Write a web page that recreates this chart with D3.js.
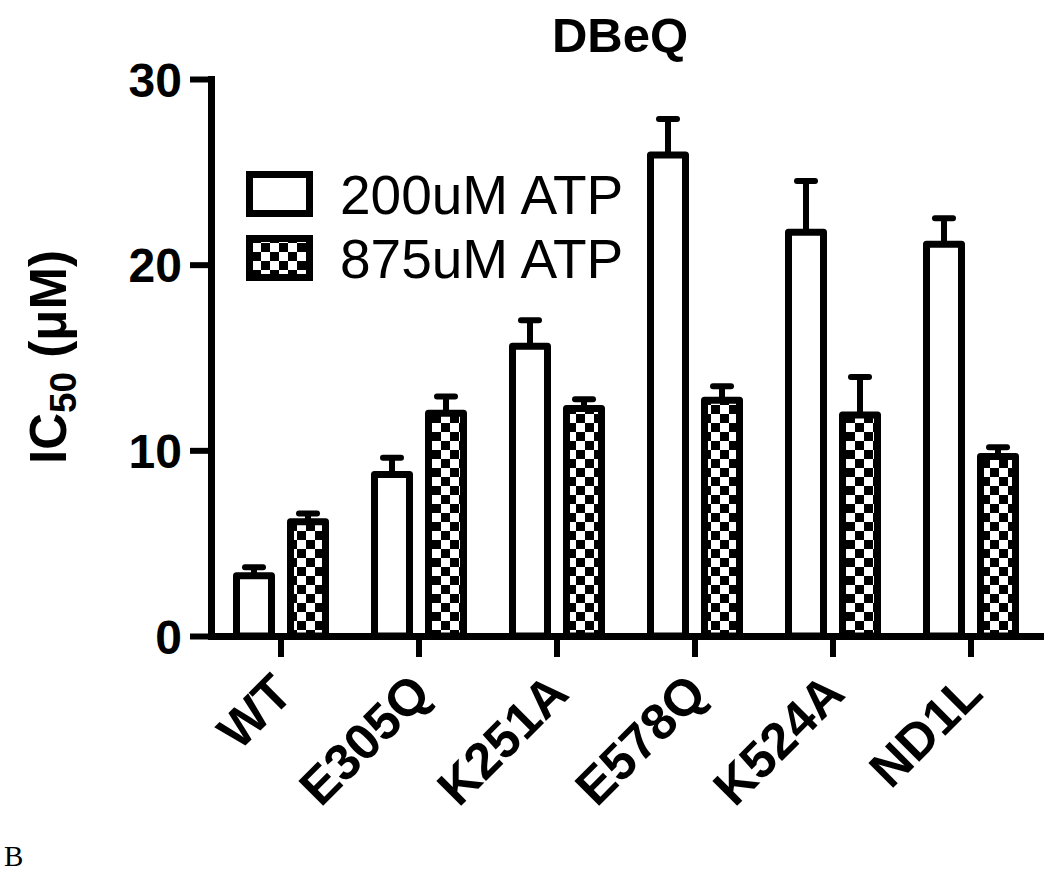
<!DOCTYPE html>
<html>
<head>
<meta charset="utf-8">
<script src="https://cdn.jsdelivr.net/npm/d3@7"></script>
<style>
  html, body { margin: 0; padding: 0; background: #fff; }
  svg { display: block; }
</style>
</head>
<body>
<svg id="chart" width="1050" height="876"></svg>
<script>
const categories = ["WT", "E305Q", "K251A", "E578Q", "K524A", "ND1L"];
const seriesNames = ["200uM ATP", "875uM ATP"];
const values200 = [3.25, 8.7, 15.6, 25.9, 21.75, 21.1];
const errors200 = [0.45, 0.9, 1.4, 1.95, 2.75, 1.4];
const values875 = [6.15, 12.0, 12.25, 12.7, 11.9, 9.67];
const errors875 = [0.45, 0.9, 0.5, 0.75, 2.05, 0.5];
const yTicks = [0, 10, 20, 30];
const titleText = "DBeQ";

const svg = d3.select("#chart");
const FONT = "'Liberation Sans', Arial, Helvetica, sans-serif";

const x0 = 212, x1 = 1040, yTop = 79, yBottom = 636;
const x = d3.scaleBand().domain(categories).range([x0, x1]).paddingInner(0).paddingOuter(0);
const xs = d3.scaleBand().domain(seriesNames).range([-44.5, 44.5]).paddingInner(0.352);
const y = d3.scaleLinear().domain([0, 30]).range([yBottom, yTop]);

// checker pattern
const defs = svg.append("defs");
const pat = defs.append("pattern").attr("id", "checker")
  .attr("patternUnits", "userSpaceOnUse").attr("width", 18).attr("height", 18);
pat.append("rect").attr("width", 18).attr("height", 18).attr("fill", "#fff");
pat.append("rect").attr("x", 0).attr("y", 0).attr("width", 9).attr("height", 9).attr("fill", "#000");
pat.append("rect").attr("x", 9).attr("y", 9).attr("width", 9).attr("height", 9).attr("fill", "#000");

const fills = {"200uM ATP": "#fff", "875uM ATP": "url(#checker)"};

const data = [];
categories.forEach((c, i) => {
  data.push({cat: c, s: seriesNames[0], v: values200[i], e: errors200[i]});
  data.push({cat: c, s: seriesNames[1], v: values875[i], e: errors875[i]});
});

// error bars
const eg = svg.append("g");
data.forEach(d => {
  const cx = x(d.cat) + x.bandwidth() / 2 + xs(d.s) + xs.bandwidth() / 2;
  eg.append("line").attr("x1", cx).attr("x2", cx).attr("y1", y(d.v)).attr("y2", y(d.v + d.e))
    .attr("stroke", "#000").attr("stroke-width", 6);
  eg.append("line").attr("x1", cx - 9).attr("x2", cx + 9).attr("y1", y(d.v + d.e)).attr("y2", y(d.v + d.e))
    .attr("stroke", "#000").attr("stroke-width", 6).attr("stroke-linecap", "round");
});

// bars
svg.append("g").selectAll("rect").data(data).join("rect")
  .attr("x", d => x(d.cat) + x.bandwidth() / 2 + xs(d.s))
  .attr("y", d => y(d.v))
  .attr("width", xs.bandwidth())
  .attr("height", d => y(0) - y(d.v))
  .attr("fill", d => fills[d.s])
  .attr("stroke", "#000").attr("stroke-width", 7).attr("stroke-linejoin", "round");

// y axis
const ya = svg.append("g").attr("transform", `translate(${x0 - 1},0)`)
  .call(d3.axisLeft(y).tickValues(yTicks).tickSize(21).tickSizeOuter(0).tickPadding(8));
ya.select(".domain").attr("stroke-width", 7).attr("stroke-linecap", "square");
ya.selectAll(".tick line").attr("stroke-width", 6);
ya.selectAll(".tick text").attr("font-family", FONT).attr("font-size", 48).attr("font-weight", "bold")
  .attr("fill", "#000").attr("dy", "0.36em");

// x axis
const xa = svg.append("g").attr("transform", `translate(0,${yBottom})`)
  .call(d3.axisBottom(x).tickSize(21).tickSizeOuter(0).tickFormat(""));
xa.select(".domain").attr("stroke-width", 7).attr("stroke-linecap", "square");
xa.selectAll(".tick line").attr("stroke-width", 6);

// x labels
svg.append("g").selectAll("text").data(categories).join("text")
  .attr("transform", d => `translate(${x(d) + x.bandwidth() / 2 + 14},${yBottom + 60}) rotate(-45)`)
  .attr("text-anchor", "end")
  .attr("font-family", FONT).attr("font-size", 51).attr("font-weight", "bold").attr("fill", "#000")
  .text(d => d);

// y label
const yl = svg.append("text")
  .attr("transform", `translate(66,357) rotate(-90)`)
  .attr("text-anchor", "middle")
  .attr("font-family", FONT).attr("font-size", 51).attr("font-weight", "bold").attr("fill", "#000");
yl.append("tspan").text("IC");
yl.append("tspan").attr("font-size", 37).attr("dy", 10).text("50");
yl.append("tspan").attr("dy", -10).text(" (μM)");

// title
svg.append("text").attr("x", 620).attr("y", 52).attr("text-anchor", "middle")
  .attr("font-family", FONT).attr("font-size", 49).attr("font-weight", "bold").attr("fill", "#000")
  .text(titleText);

// legend
const lg = svg.append("g");
seriesNames.forEach((s, i) => {
  const ly = 174.5 + i * 64;
  lg.append("rect").attr("x", 249.5).attr("y", ly).attr("width", 60).attr("height", 39)
    .attr("fill", fills[s]).attr("stroke", "#000").attr("stroke-width", 7);
  lg.append("text").attr("x", 340).attr("y", ly + 39.5)
    .attr("font-family", FONT).attr("font-size", 55).attr("fill", "#000").text(s);
});

// panel letter
svg.append("text").attr("x", 4).attr("y", 866)
  .attr("font-family", "'Liberation Serif', 'Times New Roman', serif").attr("font-size", 29).attr("fill", "#000")
  .text("B");
</script>
</body>
</html>
